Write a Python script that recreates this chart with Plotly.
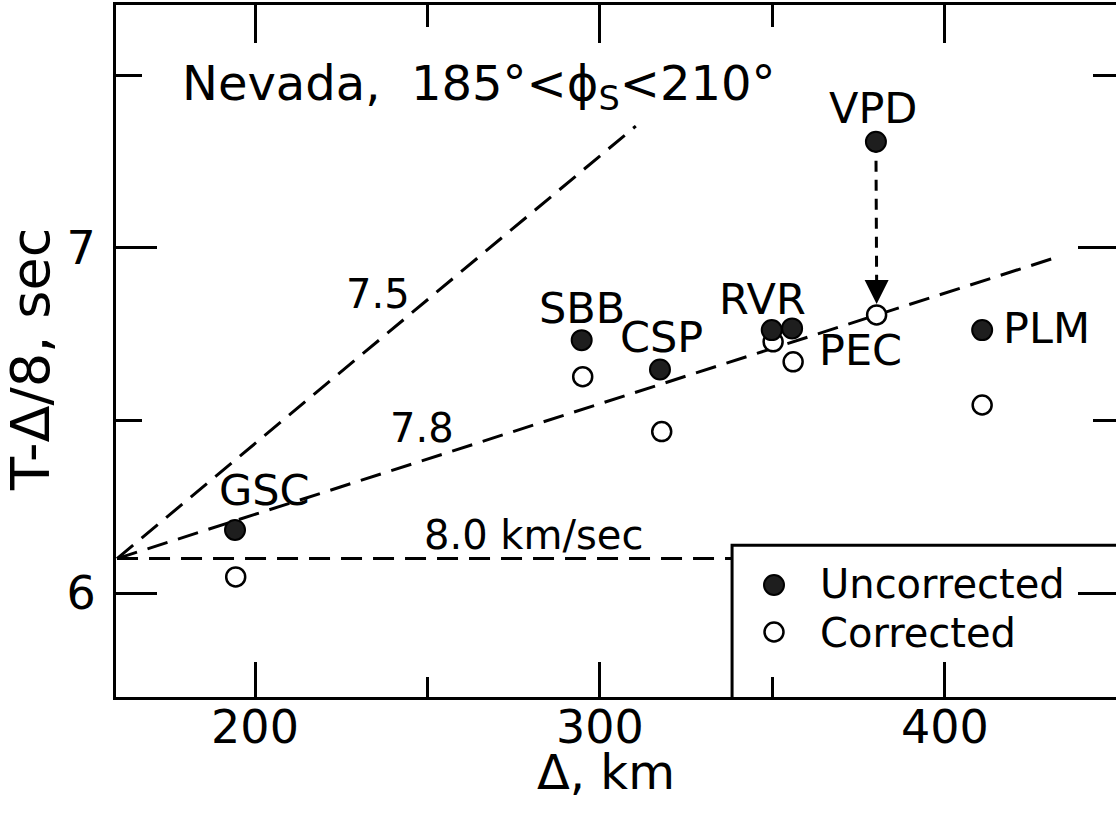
import plotly.graph_objects as go

# Station readings: epicentral distance (km) and reduced travel time T - Δ/8 (sec)
stations = ["GSC", "SBB", "CSP", "RVR", "PEC", "VPD", "PLM"]
dist_uncorr = [194.2, 294.7, 317.4, 349.8, 355.7, 380.0, 410.8]
time_uncorr = [6.183, 6.733, 6.648, 6.762, 6.767, 7.308, 6.762]
dist_corr = [194.4, 295.0, 317.9, 350.2, 356.0, 380.2, 410.8]
time_corr = [6.047, 6.627, 6.468, 6.728, 6.670, 6.806, 6.545]

# Reference velocity lines (km/sec), all starting from a common intercept
velocities = [7.5, 7.8, 8.0]
line_labels = ["7.5", "7.8", "8.0 km/sec"]
line_end_dist = [310.4, 431.3, 338.3]
origin_dist, origin_time = 160.0, 6.10

legend_labels = ["Uncorrected", "Corrected"]

x_range = [159.7, 449.6]
y_range = [5.699, 7.704]
x_major = [200, 300, 400]
x_minor = [250, 350]
y_major = [6, 7]
y_minor = [6.5, 7.5]

FONT = "DejaVu Sans"
INK = "black"

# plot area in pixels (used to place free text in paper coordinates)
W, H = 1116, 822
L, R, T, B = 116, 0, 5, 125
PW, PH = W - L - R, H - T - B


def px(xp):
    return (xp - L) / PW


def py(yp):
    return (H - B - yp) / PH


fig = go.Figure()

# velocity lines: reduced time grows with slope 1/v - 1/8
for v, xend in zip(velocities, line_end_dist):
    slope = 1.0 / v - 1.0 / 8.0
    fig.add_trace(go.Scatter(
        x=[origin_dist, xend],
        y=[origin_time, origin_time + slope * (xend - origin_dist)],
        mode="lines", line=dict(color=INK, width=3, dash="21px,11px"),
        hoverinfo="skip", showlegend=False, cliponaxis=False))

# VPD shift from uncorrected to corrected time
i_vpd = stations.index("VPD")
fig.add_trace(go.Scatter(
    x=[dist_uncorr[i_vpd], dist_corr[i_vpd]],
    y=[time_uncorr[i_vpd], time_corr[i_vpd] + 0.11],
    mode="lines", line=dict(color=INK, width=3, dash="11px,8px"),
    hoverinfo="skip", showlegend=False))
fig.add_annotation(
    x=dist_corr[i_vpd], y=time_corr[i_vpd], ax=dist_corr[i_vpd], ay=time_corr[i_vpd] + 0.115,
    xref="x", yref="y", axref="x", ayref="y", text="", showarrow=True,
    arrowhead=2, arrowsize=1.6, arrowwidth=3, arrowcolor=INK, standoff=11)

# legend box
fig.add_shape(type="rect", xref="x", yref="y", x0=338.3, x1=470, y0=5.60, y1=6.139,
              line=dict(color=INK, width=3), fillcolor="white", layer="below")

# data points
fig.add_trace(go.Scatter(
    x=dist_corr, y=time_corr, mode="markers",
    marker=dict(size=19, color="white", line=dict(color=INK, width=2.5)),
    showlegend=False))
fig.add_trace(go.Scatter(
    x=dist_uncorr, y=time_uncorr, mode="markers",
    marker=dict(size=20, color="#1e1e1e", line=dict(color=INK, width=2)),
    showlegend=False))

# legend keys
fig.add_trace(go.Scatter(
    x=[px(774)], y=[py(585)], xaxis="x2", yaxis="y2", mode="markers",
    marker=dict(size=20, color="#1e1e1e", line=dict(color=INK, width=2)),
    showlegend=False, hoverinfo="skip"))
fig.add_trace(go.Scatter(
    x=[px(774)], y=[py(632)], xaxis="x2", yaxis="y2", mode="markers",
    marker=dict(size=19, color="white", line=dict(color=INK, width=2.5)),
    showlegend=False, hoverinfo="skip"))
for lab, yp in zip(legend_labels, [584, 633]):
    fig.add_annotation(x=px(818), y=py(yp), xref="paper", yref="paper", text=lab,
                       showarrow=False, xanchor="left", yanchor="middle",
                       font=dict(family=FONT, size=40, color=INK))

# station labels, offset in pixels from the uncorrected point
label_shift = {"GSC": (29, 40), "SBB": (0, 32), "CSP": (2, 32), "RVR": (-9, 31),
               "PEC": (68, -22), "VPD": (-3, 34), "PLM": (64, 2)}
for name, xv, yv in zip(stations, dist_uncorr, time_uncorr):
    dx, dy = label_shift[name]
    fig.add_annotation(x=xv, y=yv, xref="x", yref="y", text=name, showarrow=False,
                       xshift=dx, yshift=dy, xanchor="center", yanchor="middle",
                       font=dict(family=FONT, size=43, color=INK))

# velocity line labels
for lab, (xp, yp) in zip(line_labels, [(378, 294), (422, 428), (533, 535)]):
    fig.add_annotation(x=px(xp), y=py(yp), xref="paper", yref="paper", text=lab,
                       showarrow=False, xanchor="center", yanchor="middle",
                       font=dict(family=FONT, size=40, color=INK))

# panel title
fig.add_annotation(x=px(180), y=py(86), xref="paper", yref="paper",
                   text="Nevada,  185°<ϕ<sub>S</sub><210°", showarrow=False,
                   xanchor="left", yanchor="middle",
                   font=dict(family=FONT, size=48, color=INK))

# axis titles
fig.add_annotation(x=px(606), y=py(772), xref="paper", yref="paper", text="Δ, km",
                   showarrow=False, xanchor="center", yanchor="middle",
                   font=dict(family=FONT, size=48, color=INK))
fig.add_annotation(x=px(30), y=py(360), xref="paper", yref="paper", text="T-Δ/8, sec",
                   showarrow=False, textangle=-90, xanchor="center", yanchor="middle",
                   font=dict(family=FONT, size=54, color=INK))

axis_common = dict(showgrid=False, zeroline=False, ticks="inside", tickwidth=3,
                   tickcolor=INK, linecolor=INK, linewidth=3)

fig.update_layout(
    width=W, height=H,
    margin=dict(l=L, r=R, t=T, b=B, pad=0),
    paper_bgcolor="white", plot_bgcolor="white",
    showlegend=False,
    xaxis=dict(range=x_range, tickmode="array", tickvals=x_major, ticklen=35,
               showline=True, ticklabelstandoff=-12,
               tickfont=dict(family=FONT, size=46, color=INK),
               minor=dict(tickmode="array", tickvals=x_minor, ticklen=20, tickwidth=3,
                          tickcolor=INK, ticks="inside"),
               **axis_common),
    yaxis=dict(range=y_range, tickmode="array", tickvals=y_major, ticklen=41,
               showline=True, ticklabelstandoff=8,
               tickfont=dict(family=FONT, size=46, color=INK),
               minor=dict(tickmode="array", tickvals=y_minor, ticklen=26, tickwidth=3,
                          tickcolor=INK, ticks="inside"),
               **axis_common),
    xaxis2=dict(range=[0, 1], overlaying="x", side="top", anchor="y2",
                showticklabels=False, showline=False, showgrid=False, zeroline=False,
                ticks=""),
    yaxis2=dict(range=[0, 1], overlaying="y", side="right", anchor="x2",
                showticklabels=False, showline=False, showgrid=False, zeroline=False,
                ticks=""),
    xaxis3=dict(range=x_range, overlaying="x", side="top", anchor="y",
                tickmode="array", tickvals=x_major, ticklen=38, showline=True,
                showticklabels=False,
                minor=dict(tickmode="array", tickvals=x_minor, ticklen=22, tickwidth=3,
                           tickcolor=INK, ticks="inside"),
                **axis_common),
    yaxis3=dict(range=y_range, overlaying="y", side="right", anchor="x",
                tickmode="array", tickvals=y_major, ticklen=38,
                showticklabels=False,
                minor=dict(tickmode="array", tickvals=y_minor, ticklen=23, tickwidth=3,
                           tickcolor=INK, ticks="inside"),
                showgrid=False, zeroline=False, ticks="inside", tickwidth=3,
                tickcolor=INK, showline=False),
)

# invisible anchors so the top and right tick axes are drawn
fig.add_trace(go.Scatter(x=[x_range[0]], y=[y_range[0]], xaxis="x3", yaxis="y",
                         mode="markers", marker=dict(opacity=0), showlegend=False,
                         hoverinfo="skip"))
fig.add_trace(go.Scatter(x=[x_range[0]], y=[y_range[0]], xaxis="x", yaxis="y3",
                         mode="markers", marker=dict(opacity=0), showlegend=False,
                         hoverinfo="skip"))

fig.write_html("out.html")
